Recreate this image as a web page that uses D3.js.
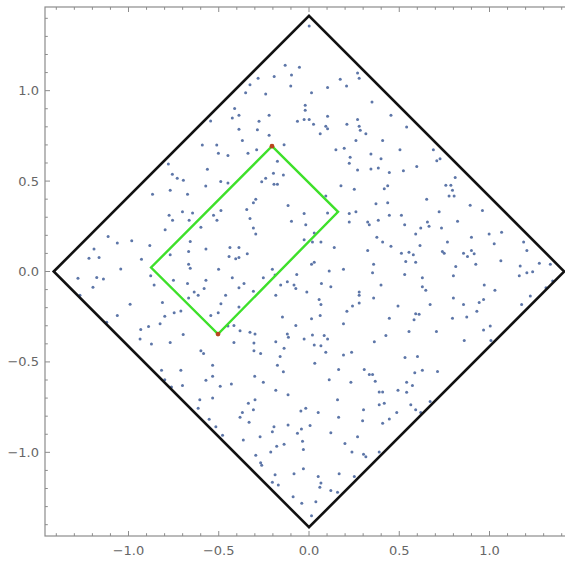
<!DOCTYPE html>
<html>
<head>
<meta charset="utf-8">
<script src="https://cdn.jsdelivr.net/npm/d3@7"></script>
<style>
  html, body { margin: 0; padding: 0; background: #fff; }
  svg { display: block; }
</style>
</head>
<body>
<svg id="chart" width="565" height="561"></svg>
<script>
// Sample points scattered inside the square |x| + |y| <= sqrt(2)
const sampleX = [
  -0.545,-0.591,-0.511,-0.502,-0.779,-0.563,-0.757,-0.730,-0.696,-0.489,-0.572,
  0.001,-0.132,-0.053,-0.282,-0.193,-0.097,0.269,0.173,0.278,-0.327,-0.101,0.103,0.208,-0.351,-0.240,0.014,0.349,-0.021,-0.021,
  -0.412,-0.388,-0.425,-0.221,0.103,0.454,-0.027,0.001,-0.064,0.025,-0.277,0.269,-0.388,-0.286,0.093,0.103,0.210,0.278,0.284,0.315,0.062,
  -0.221,-0.369,-0.138,0.260,0.408,-0.449,-0.338,-0.290,-0.175,0.149,0.195,0.228,0.343,0.399,-0.197,-0.142,-0.240,-0.262,-0.194,-0.175,-0.449,
  0.269,0.343,0.384,0.445,0.223,0.177,0.436,
  0.541,0.504,0.689,0.708,0.726,0.597,0.523,0.810,0.758,0.786,
  -0.867,-0.769,-0.673,-0.775,-0.701,-0.645,-0.756,-0.664,-0.529,-0.510,-0.488,-0.797,-0.599,-1.113,-1.062,-0.982,-1.191,-0.882,-0.658,
  -1.219,-1.163,-0.928,-0.769,-0.667,-0.571,-1.043,-0.667,-0.658,-0.501,-0.877,-0.858,-1.280,-1.176,-1.139,-0.751,-0.571,-1.197,-0.673,-0.581,
  -1.269,-0.636,-0.614,-0.667,-0.812,-0.488,-0.991,-1.121,-1.062,-0.799,-0.747,-0.710,-0.544,-0.503,-0.889,-0.932,-0.825,-0.697,-0.936,-0.873,-0.769,-0.599,-0.584,
  0.093,0.251,0.417,-0.295,-0.308,-0.345,-0.116,0.371,0.436,-0.327,-0.097,-0.027,-0.018,0.103,0.223,0.260,0.223,0.325,0.334,0.384,0.445,
  -0.308,-0.295,0.029,-0.027,0.019,0.066,0.376,0.408,-0.388,-0.438,0.140,0.454,0.325,-0.406,-0.388,-0.443,-0.342,0.029,0.014,0.358,
  -0.203,-0.253,-0.425,-0.188,-0.068,0.112,0.191,0.352,-0.360,-0.388,-0.157,-0.120,-0.083,-0.073,0.069,0.121,0.399,
  -0.308,-0.184,-0.012,-0.462,0.278,0.278,0.358,-0.388,0.056,0.066,0.241,0.278,0.210,-0.147,0.014,0.062,0.445,
  -0.449,-0.416,-0.382,-0.327,-0.299,-0.073,0.191,-0.120,-0.114,-0.027,0.019,0.084,0.103,0.426,-0.416,-0.305,-0.184,0.029,0.066,0.362,
  -0.305,-0.268,-0.138,0.093,0.191,0.236,-0.160,
  0.795,0.776,0.804,0.652,0.893,0.961,0.721,0.512,0.656,0.665,0.823,0.530,0.619,0.734,0.591,0.998,1.067,0.900,0.767,1.026,0.615,1.189,1.207,
  0.512,0.554,0.578,0.739,0.749,0.856,0.878,0.900,0.915,0.536,0.591,1.063,0.924,0.813,1.170,1.276,1.337,0.530,0.800,1.165,1.207,1.239,
  0.628,0.628,0.647,0.971,1.030,1.350,1.313,0.800,0.967,1.226,0.493,0.671,0.856,0.943,1.178,0.930,0.591,0.610,0.582,0.795,0.874,1.004,0.967,
  0.554,0.706,0.860,1.008,0.532,0.601,
  -0.817,-0.710,-0.534,-0.799,-0.701,-0.762,-0.571,-0.534,-0.492,-0.605,-0.534,-0.614,-0.553,-0.516,-0.479,
  -0.175,0.032,-0.142,-0.301,-0.253,-0.430,0.164,0.306,0.334,0.352,0.112,0.232,0.367,-0.184,-0.116,-0.299,-0.336,-0.308,-0.369,-0.382,-0.332,
  0.158,0.389,0.408,0.389,0.417,-0.045,-0.018,0.051,0.302,0.164,0.297,0.445,0.408,-0.194,-0.203,-0.116,-0.042,-0.064,0.006,0.121,0.269,
  -0.271,-0.364,-0.138,-0.179,-0.036,-0.031,0.199,0.238,0.302,0.315,0.389,-0.295,-0.212,-0.268,-0.262,-0.188,-0.203,-0.170,-0.083,-0.031,
  0.051,0.066,0.060,0.167,0.251,0.121,0.158,-0.088,-0.040,0.038,0.014,
  0.586,0.628,0.712,0.541,0.573,0.493,0.541,0.671,0.564,0.591,0.619,0.486
];
const sampleY = [
  0.832,0.700,0.700,0.654,0.594,0.566,0.538,0.516,0.504,0.497,0.473,
  1.357,1.140,1.130,1.069,1.078,1.086,1.097,1.063,1.069,1.032,1.026,1.017,1.026,0.989,0.982,0.989,0.937,0.920,0.892,
  0.901,0.864,0.849,0.864,0.859,0.864,0.840,0.840,0.831,0.814,0.831,0.840,0.786,0.784,0.803,0.790,0.814,0.803,0.781,0.762,0.762,
  0.753,0.725,0.701,0.725,0.725,0.641,0.654,0.673,0.610,0.673,0.682,0.632,0.650,0.624,0.543,0.533,0.515,0.496,0.483,0.483,0.489,
  0.561,0.567,0.572,0.548,0.598,0.474,0.474,
  0.799,0.673,0.673,0.613,0.623,0.580,0.557,0.520,0.477,0.477,
  0.427,0.449,0.427,0.311,0.330,0.324,0.284,0.284,0.311,0.284,0.338,0.231,0.245,0.194,0.157,0.170,0.125,0.144,0.166,
  0.073,0.077,0.068,0.092,0.111,0.125,0.014,0.040,0.018,0.012,-0.023,-0.075,-0.038,-0.033,-0.042,-0.048,-0.048,-0.087,-0.066,-0.094,
  -0.131,-0.113,-0.131,-0.146,-0.172,-0.178,-0.181,-0.280,-0.243,-0.248,-0.228,-0.219,-0.243,-0.228,-0.304,-0.321,-0.289,-0.349,-0.373,-0.401,-0.392,-0.438,-0.453,
  0.417,0.455,0.458,0.399,0.380,0.343,0.365,0.375,0.380,0.293,0.278,0.321,0.259,0.324,0.321,0.330,0.274,0.274,0.259,0.284,0.311,
  0.241,0.207,0.213,0.176,0.163,0.163,0.189,0.163,0.133,0.133,0.133,0.139,0.116,0.070,0.077,0.083,0.098,0.051,0.040,0.040,
  0.012,-0.034,-0.034,-0.020,-0.016,0.003,0.012,-0.007,-0.066,-0.090,-0.075,-0.057,-0.075,-0.094,-0.066,-0.085,-0.075,
  -0.109,-0.131,-0.113,-0.131,-0.113,-0.131,-0.146,-0.196,-0.155,-0.183,-0.191,-0.174,-0.220,-0.252,-0.261,-0.243,-0.258,
  -0.302,-0.299,-0.327,-0.336,-0.345,-0.299,-0.289,-0.345,-0.364,-0.373,-0.351,-0.354,-0.373,-0.354,-0.392,-0.395,-0.388,-0.406,-0.410,-0.388,
  -0.438,-0.453,-0.425,-0.447,-0.462,-0.447,-0.470,
  0.449,0.417,0.417,0.399,0.367,0.338,0.330,0.311,0.274,0.250,0.278,0.259,0.241,0.241,0.207,0.207,0.217,0.189,0.163,0.153,0.144,0.163,0.116,
  0.101,0.107,0.092,0.111,0.101,0.101,0.083,0.116,0.098,0.055,0.051,0.059,0.040,0.027,0.031,0.046,0.040,-0.016,-0.023,-0.023,-0.007,-0.001,
  -0.034,-0.085,-0.103,-0.075,-0.103,-0.053,-0.090,-0.146,-0.155,-0.135,-0.191,-0.183,-0.183,-0.172,-0.183,-0.220,-0.234,-0.237,-0.267,-0.258,-0.252,-0.302,-0.323,
  -0.332,-0.332,-0.382,-0.382,-0.475,-0.470,
  -0.546,-0.546,-0.519,-0.598,-0.631,-0.639,-0.601,-0.579,-0.635,-0.709,-0.700,-0.756,-0.817,-0.858,-0.905,
  -0.519,-0.508,-0.555,-0.579,-0.612,-0.622,-0.542,-0.542,-0.570,-0.570,-0.598,-0.612,-0.607,-0.657,-0.681,-0.709,-0.728,-0.765,-0.780,-0.806,-0.834,
  -0.709,-0.666,-0.666,-0.737,-0.728,-0.771,-0.756,-0.780,-0.765,-0.806,-0.825,-0.815,-0.839,-0.858,-0.886,-0.849,-0.871,-0.895,-0.852,-0.891,-0.914,
  -0.914,-0.932,-0.955,-0.966,-0.938,-0.984,-0.951,-0.998,-1.011,-1.025,-0.998,-1.016,-0.998,-1.057,-1.072,-1.124,-1.165,-1.180,-1.118,-1.091,
  -1.133,-1.169,-1.193,-1.118,-1.133,-1.211,-1.221,-1.245,-1.282,-1.273,-1.351,
  -0.560,-0.546,-0.553,-0.612,-0.631,-0.657,-0.668,-0.719,-0.737,-0.765,-0.780,-0.780
];

// Outer square (corners on the axes) and the inner rectangle
const squareX = [-1.4142, 0, 1.4142, 0];
const squareY = [0, 1.4142, 0, -1.4142];
const rectX = [-0.205, 0.161, -0.504, -0.875];
const rectY = [0.693, 0.330, -0.346, 0.022];
// Rectangle drawn in order: top, right, bottom, left
const rectOrder = [0, 1, 2, 3];
// Highlighted corners of the rectangle
const markX = [-0.205, -0.504];
const markY = [0.693, -0.346];

const majorTicks = [-1.0, -0.5, 0.0, 0.5, 1.0];
const minorTicks = [-1.4, -1.3, -1.2, -1.1, -0.9, -0.8, -0.7, -0.6, -0.4, -0.3, -0.2, -0.1,
                     0.1, 0.2, 0.3, 0.4, 0.6, 0.7, 0.8, 0.9, 1.1, 1.2, 1.3, 1.4];
const tickLabels = ["\u22121.0", "\u22120.5", "0.0", "0.5", "1.0"];

const svg = d3.select("#chart");
const lim = 1.4626;
const x = d3.scaleLinear().domain([-lim, lim]).range([45, 573]);
const y = d3.scaleLinear().domain([-lim, lim]).range([536, 7]);

const frameColor = "#8c8c8c";
const labelColor = "#666";

// Sample points
svg.append("g")
  .selectAll("circle")
  .data(d3.range(sampleX.length))
  .join("circle")
  .attr("cx", i => x(sampleX[i]))
  .attr("cy", i => y(sampleY[i]))
  .attr("r", 1.5)
  .attr("fill", "#5d76a8");

// Outer square
const line = d3.line().x(i => x(squareX[i])).y(i => y(squareY[i])).curve(d3.curveLinearClosed);
svg.append("path")
  .attr("d", line([0, 1, 2, 3]))
  .attr("fill", "none")
  .attr("stroke", "#111")
  .attr("stroke-width", 2.6)
  .attr("stroke-linejoin", "miter");

// Inner rectangle
const rline = d3.line().x(i => x(rectX[i])).y(i => y(rectY[i])).curve(d3.curveLinearClosed);
svg.append("path")
  .attr("d", rline(rectOrder))
  .attr("fill", "none")
  .attr("stroke", "#3ee02a")
  .attr("stroke-width", 2.4);

svg.append("g")
  .selectAll("circle")
  .data(d3.range(markX.length))
  .join("circle")
  .attr("cx", i => x(markX[i]))
  .attr("cy", i => y(markY[i]))
  .attr("r", 2.4)
  .attr("fill", "#b8461e");

// Frame with ticks on all sides; labels on left and bottom
const frame = svg.append("g");
frame.append("rect")
  .attr("x", x(-lim)).attr("y", y(lim))
  .attr("width", x(lim) - x(-lim)).attr("height", y(-lim) - y(lim))
  .attr("fill", "none").attr("stroke", frameColor).attr("stroke-width", 1.2);

function ticks(values, len) {
  values.forEach(v => {
    // bottom and top
    frame.append("line").attr("x1", x(v)).attr("x2", x(v))
      .attr("y1", y(-lim)).attr("y2", y(-lim) - len).attr("stroke", frameColor);
    frame.append("line").attr("x1", x(v)).attr("x2", x(v))
      .attr("y1", y(lim)).attr("y2", y(lim) + len).attr("stroke", frameColor);
    // left and right
    frame.append("line").attr("y1", y(v)).attr("y2", y(v))
      .attr("x1", x(-lim)).attr("x2", x(-lim) + len).attr("stroke", frameColor);
    frame.append("line").attr("y1", y(v)).attr("y2", y(v))
      .attr("x1", x(lim)).attr("x2", x(lim) - len).attr("stroke", frameColor);
  });
}
ticks(majorTicks, 5);
ticks(minorTicks, 2.8);

frame.selectAll("text.xl")
  .data(majorTicks)
  .join("text")
  .attr("class", "xl")
  .attr("x", d => x(d))
  .attr("y", y(-lim) + 19)
  .attr("text-anchor", "middle")
  .attr("font-family", "DejaVu Sans, sans-serif")
  .attr("font-size", 13)
  .attr("fill", labelColor)
  .text((d, i) => tickLabels[i]);

frame.selectAll("text.yl")
  .data(majorTicks)
  .join("text")
  .attr("class", "yl")
  .attr("x", x(-lim) - 6)
  .attr("y", d => y(d) + 4.5)
  .attr("text-anchor", "end")
  .attr("font-family", "DejaVu Sans, sans-serif")
  .attr("font-size", 13)
  .attr("fill", labelColor)
  .text((d, i) => tickLabels[i]);
</script>
</body>
</html>
